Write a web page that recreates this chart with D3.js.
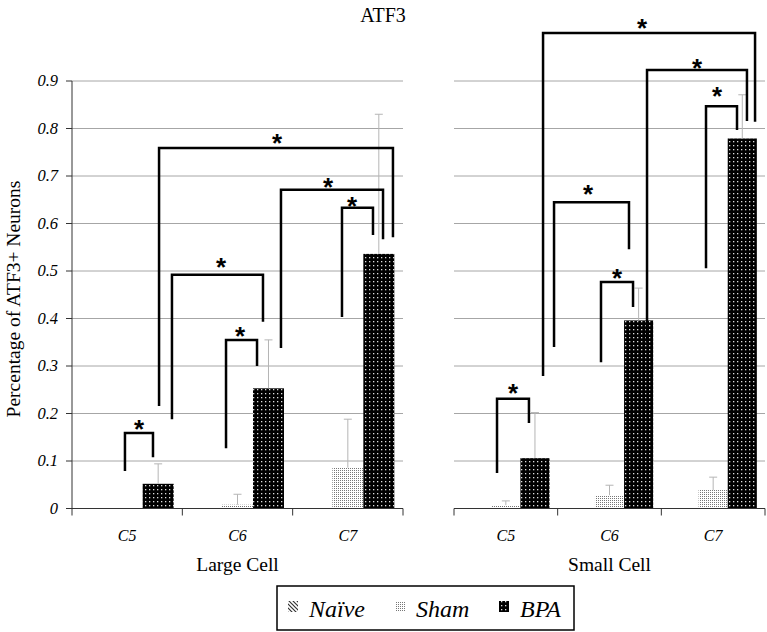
<!DOCTYPE html>
<html><head><meta charset="utf-8">
<script src="https://cdn.jsdelivr.net/npm/d3@7"></script>
<style>body{margin:0;background:#fff}svg{display:block}</style>
</head><body>
<svg id="chart" width="767" height="632"></svg>
<script>
// ---- data ----
const categories = ["C5", "C6", "C7"];
const series = ["Naïve", "Sham", "BPA"];
const panels = ["Large Cell", "Small Cell"];
const yTicks = [0, 0.1, 0.2, 0.3, 0.4, 0.5, 0.6, 0.7, 0.8, 0.9];
const yTickLabels = ["0", "0.1", "0.2", "0.3", "0.4", "0.5", "0.6", "0.7", "0.8", "0.9"];
const largeNaive = [0, 0, 0];
const largeSham  = [0, 0.008, 0.086];
const largeBPA   = [0.052, 0.253, 0.536];
const smallNaive = [0, 0, 0];
const smallSham  = [0.007, 0.028, 0.039];
const smallBPA   = [0.106, 0.396, 0.779];
// upper error bar ends
const largeNaiveErr = [0, 0, 0];
const largeShamErr  = [0, 0.030, 0.188];
const largeBPAErr   = [0.094, 0.355, 0.830];
const smallNaiveErr = [0, 0, 0];
const smallShamErr  = [0.016, 0.049, 0.066];
const smallBPAErr   = [0.202, 0.464, 0.871];
// significance brackets: panel, x1, x2 (category units 0..3), top, left-leg bottom, right-leg bottom (data units), star x, star y
const bracketPanel = [0, 0, 0, 0, 0, 0, 1, 1, 1, 1, 1, 1];
const bracketX1    = [0.48, 0.906, 1.396, 1.894, 2.447, 0.789, 0.415, 0.965, 1.418, 1.862, 2.431, 0.859];
const bracketX2    = [0.734, 1.731, 1.677, 2.819, 2.728, 2.909, 0.723, 1.688, 1.727, 2.826, 2.730, 2.904];
const bracketTop   = [0.159, 0.492, 0.355, 0.671, 0.633, 0.759, 0.231, 0.645, 0.477, 0.923, 0.847, 1.001];
const bracketLeftB = [0.079, 0.188, 0.127, 0.338, 0.403, 0.216, 0.075, 0.340, 0.308, 0.351, 0.506, 0.279];
const bracketRightB= [0.108, 0.393, 0.300, 0.567, 0.576, 0.571, 0.180, 0.546, 0.424, 0.816, 0.797, 0.814];
const starX        = [0.607, 1.350, 1.523, 2.320, 2.538, 1.858, 0.569, 1.293, 1.572, 2.344, 2.537, 1.813];
const starY        = [0.178, 0.521, 0.374, 0.689, 0.649, 0.782, 0.254, 0.673, 0.496, 0.940, 0.881, 1.024];

const values = [[largeNaive, largeSham, largeBPA], [smallNaive, smallSham, smallBPA]];
const errs = [[largeNaiveErr, largeShamErr, largeBPAErr], [smallNaiveErr, smallShamErr, smallBPAErr]];

const svg = d3.select("#chart");
const serif = "'Liberation Serif', 'Times New Roman', serif";

// patterns
const defs = svg.append("defs");
const pN = defs.append("pattern").attr("id", "pNaive").attr("patternUnits", "userSpaceOnUse").attr("width", 4).attr("height", 4);
pN.append("rect").attr("width", 4).attr("height", 4).attr("fill", "#fff");
pN.append("path").attr("d", "M-1,-1 L5,5 M-1,3 L1,5 M3,-1 L5,1").attr("stroke", "#333").attr("stroke-width", 1.2);
const pS = defs.append("pattern").attr("id", "pSham").attr("patternUnits", "userSpaceOnUse").attr("width", 2).attr("height", 2);
pS.append("rect").attr("width", 2).attr("height", 2).attr("fill", "#fff");
pS.append("rect").attr("width", 1).attr("height", 1).attr("fill", "#777");
const pB = defs.append("pattern").attr("id", "pBPA").attr("patternUnits", "userSpaceOnUse").attr("width", 4).attr("height", 4);
pB.append("rect").attr("width", 4).attr("height", 4).attr("fill", "#000");
pB.append("rect").attr("x", 1).attr("y", 1).attr("width", 1.3).attr("height", 1.3).attr("fill", "#ddd");
const fills = ["url(#pNaive)", "url(#pSham)", "url(#pBPA)"];

const y = d3.scaleLinear().domain([0, 0.9]).range([508.5, 81]);
const panelRanges = [[72, 403], [454, 765]];

// title
svg.append("text").attr("x", 383).attr("y", 22).attr("text-anchor", "middle")
  .attr("font-family", serif).attr("font-size", 20).text("ATF3");

// y label
svg.append("text").attr("transform", "translate(20,299) rotate(-90)").attr("text-anchor", "middle")
  .attr("font-family", serif).attr("font-size", 19.5).text("Percentage of ATF3+ Neurons");

panels.forEach((pname, pi) => {
  const [x0, x1] = panelRanges[pi];
  const x = d3.scaleBand().domain(categories).range([x0, x1]).padding(0);
  const xs = d3.scaleBand().domain(series).range([0, x.bandwidth()]).paddingInner(0).paddingOuter(0.28);
  const xc = d3.scaleLinear().domain([0, 3]).range([x0, x1]);
  const g = svg.append("g");

  g.selectAll("line.grid").data(yTicks.filter(t => t > 0)).join("line")
    .attr("x1", x0).attr("x2", x1).attr("y1", d => y(d)).attr("y2", d => y(d))
    .attr("stroke", "#a6a6a6").attr("stroke-width", 1);

  series.forEach((s, si) => {
    g.selectAll(null).data(categories).join("rect")
      .attr("x", c => x(c) + xs(s)).attr("width", xs.bandwidth())
      .attr("y", (c, ci) => y(values[pi][si][ci]))
      .attr("height", (c, ci) => y(0) - y(values[pi][si][ci]))
      .attr("fill", fills[si]);
  });
  series.forEach((s, si) => {
    categories.forEach((c, ci) => {
      const v = values[pi][si][ci], e = errs[pi][si][ci];
      if (e <= v) return;
      const cx = x(c) + xs(s) + xs.bandwidth() / 2;
      g.append("line").attr("x1", cx).attr("x2", cx).attr("y1", y(v)).attr("y2", y(e))
        .attr("stroke", "#b5b5b5").attr("stroke-width", 1);
      g.append("line").attr("x1", cx - 4).attr("x2", cx + 4).attr("y1", y(e)).attr("y2", y(e))
        .attr("stroke", "#b5b5b5").attr("stroke-width", 1);
    });
  });

  const xa = g.append("g").attr("transform", `translate(0,${y(0)})`);
  xa.append("line").attr("x1", x0).attr("x2", x1).attr("stroke", "#333");
  xa.selectAll("line.t").data(d3.range(4)).join("line")
    .attr("x1", i => xc(i)).attr("x2", i => xc(i)).attr("y1", 0).attr("y2", 7).attr("stroke", "#333");
  xa.selectAll("text").data(categories).join("text")
    .attr("x", c => x(c) + x.bandwidth() / 2).attr("y", 32).attr("text-anchor", "middle")
    .attr("font-family", serif).attr("font-style", "italic").attr("font-size", 16).text(c => c);
  g.append("text").attr("x", (x0 + x1) / 2).attr("y", 571).attr("text-anchor", "middle")
    .attr("font-family", serif).attr("font-size", 19.5).text(pname);

  if (pi === 0) {
    const ya = g.append("g").attr("transform", `translate(${x0},0)`);
    ya.append("line").attr("y1", y(0)).attr("y2", y(0.9)).attr("stroke", "#333");
    ya.selectAll("line.t").data(yTicks).join("line")
      .attr("x1", -6).attr("x2", 0).attr("y1", d => y(d)).attr("y2", d => y(d)).attr("stroke", "#333");
    ya.selectAll("text").data(yTicks).join("text")
      .attr("x", -14).attr("y", d => y(d)).attr("dy", "0.33em").attr("text-anchor", "end")
      .attr("font-family", serif).attr("font-style", "italic").attr("font-size", 16.5)
      .text((d, i) => yTickLabels[i]);
  }

  bracketPanel.forEach((bp, bi) => {
    if (bp !== pi) return;
    const a = xc(bracketX1[bi]), b = xc(bracketX2[bi]);
    g.append("path")
      .attr("d", `M${a},${y(bracketLeftB[bi])} V${y(bracketTop[bi])} H${b} V${y(bracketRightB[bi])}`)
      .attr("fill", "none").attr("stroke", "#000").attr("stroke-width", 2.5);
    g.append("text").attr("x", xc(starX[bi])).attr("y", y(starY[bi]) + 14.5)
      .attr("text-anchor", "middle").attr("font-family", "'Liberation Sans', Arial, sans-serif")
      .attr("font-weight", "bold").attr("font-size", 26).text("*");
  });
});

// legend
const lg = svg.append("g");
lg.append("rect").attr("x", 277).attr("y", 586).attr("width", 297).attr("height", 44)
  .attr("fill", "#fff").attr("stroke", "#000").attr("stroke-width", 1.5);
const legX = [288, 395, 499];
series.forEach((s, si) => {
  lg.append("rect").attr("x", legX[si]).attr("y", 601).attr("width", 10).attr("height", 11).attr("fill", fills[si]);
  lg.append("text").attr("x", legX[si] + 21).attr("y", 617)
    .attr("font-family", serif).attr("font-style", "italic").attr("font-size", 24).text(s);
});
</script>
</body></html>
